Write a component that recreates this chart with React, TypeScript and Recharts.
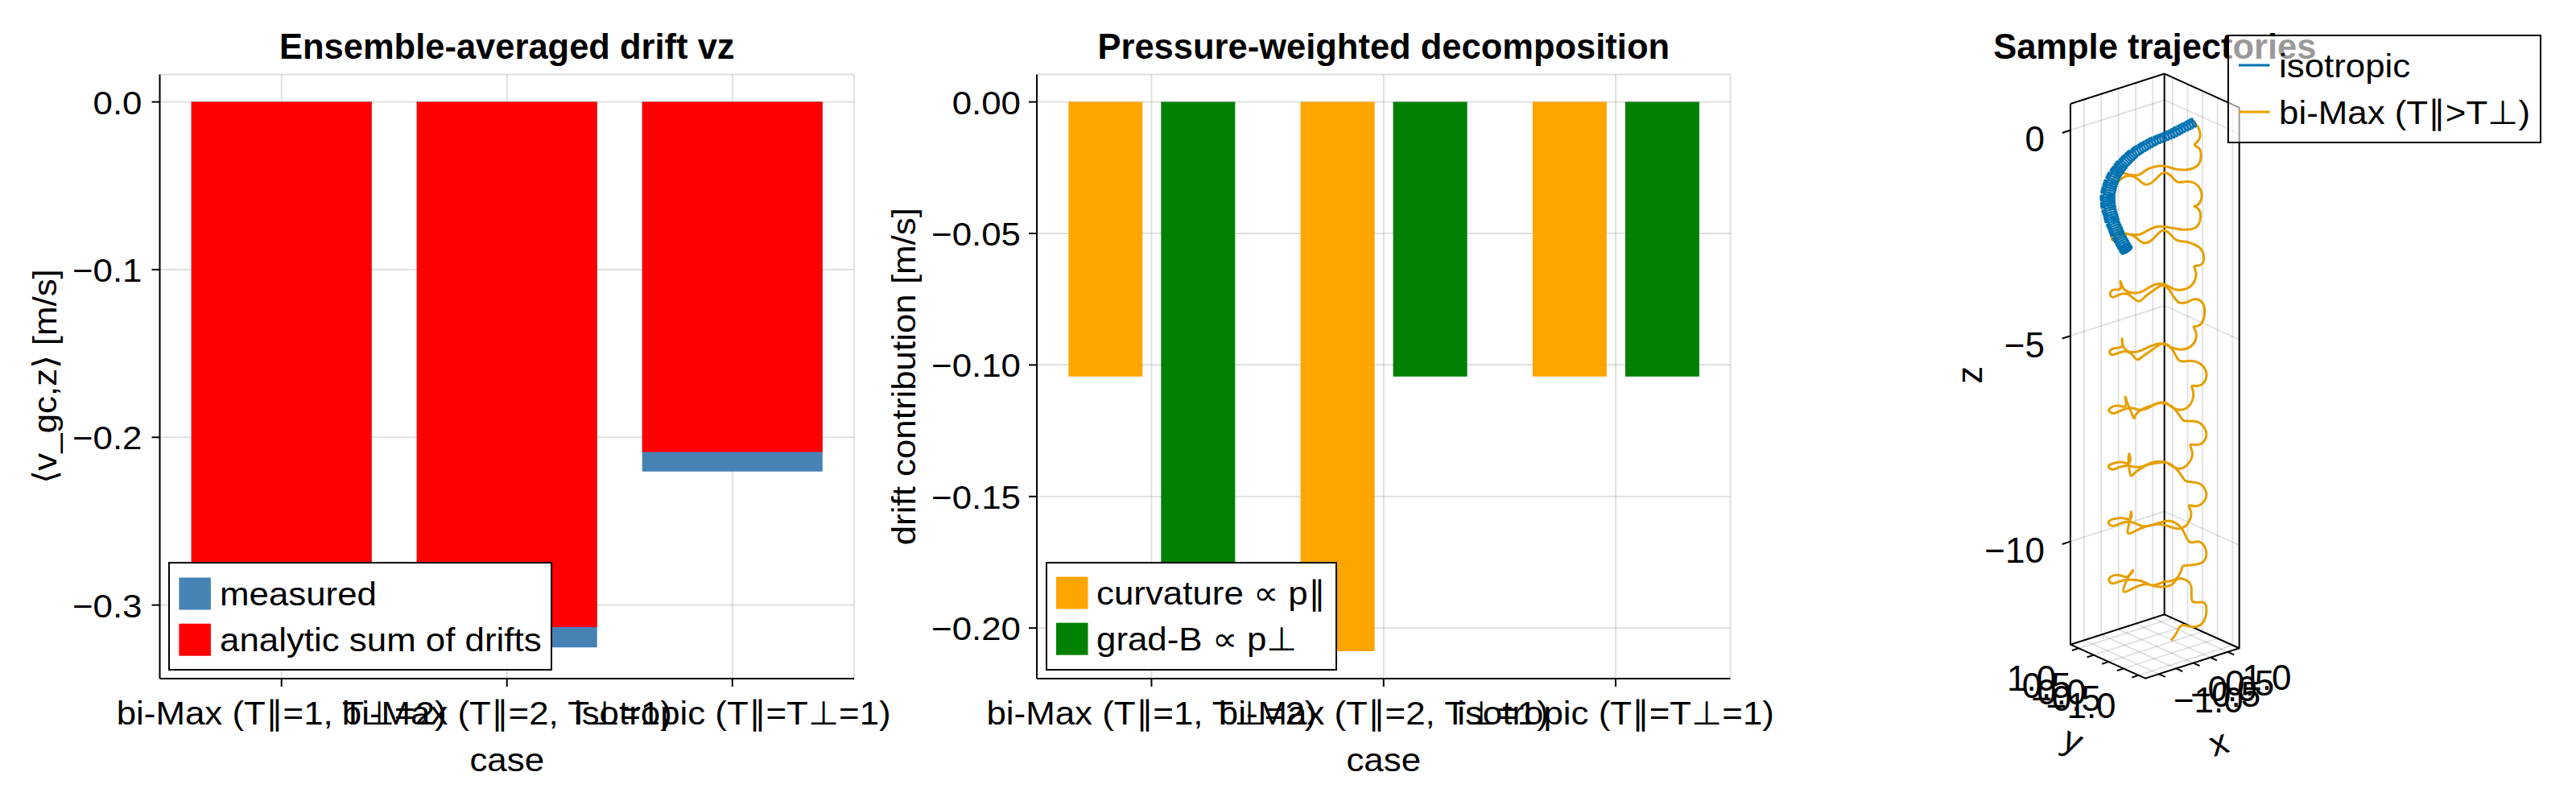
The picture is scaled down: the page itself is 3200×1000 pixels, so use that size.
import React from "react";
import { BarChart, Bar, XAxis, YAxis, CartesianGrid, ComposedChart, Line, Scatter } from "recharts";

const FONT = '"Liberation Sans", Arial, Helvetica, sans-serif';
const FS = 41; // regular text
const SX = 1.07; // reference glyphs run a bit wide
const FS_TITLE = 43.5;
const FS_3D = 44;
const INK = "#000";
const GRID = "rgba(0,0,0,0.12)";

// ---------- drift panels ----------
const CASES = ["bi-Max (T\u2225=1, T\u22A5=2)", "bi-Max (T\u2225=2, T\u22A5=1)", "isotropic (T\u2225=T\u22A5=1)"];
const MEASURED = [-0.3275, -0.3253, -0.2204];
const ANALYTIC = [-0.3132, -0.3132, -0.2088];
const CURVATURE = [-0.1044, -0.2088, -0.1044];
const GRAD_B = [-0.2088, -0.1044, -0.1044];
const DRIFT_TICKS = [0, -0.1, -0.2, -0.3];
const DECOMP_TICKS = [0, -0.05, -0.1, -0.15, -0.2];

// ---------- trajectory panel ----------
const Z_TICKS = [0, -5, -10];
const X_TICKS = [-1, -0.5, 0, 0.5, 1];
const Y_TICKS = [1, 0.5, 0, -0.5, -1];
const X_LIM = [-1.396, 1.336];
const Y_LIM = [-1.225, 1.275];
const Z_LIM = [-12.505, 0.639];
// projected floor corners (u right, v up; same unit as z)
const FLOOR_LB = { u: -2.284, v: -12.485 };
const FLOOR_BB = { u: 0, v: -11.753 };
const FLOOR_FB = { u: -0.464, v: -13.307 };

// isotropic particle: guiding-centre path of the tight helix (projected)
const ISO_U = [0.74, 0.55, 0.35, 0.16, -0.04, -0.24, -0.43, -0.6, -0.76, -0.89, -1.02, -1.12, -1.21, -1.29, -1.34, -1.38, -1.38, -1.36, -1.31, -1.27, -1.2, -1.14, -1.05, -0.97, -0.92];
const ISO_V = [0.22, 0.12, 0.02, -0.08, -0.16, -0.24, -0.34, -0.44, -0.55, -0.67, -0.8, -0.93, -1.06, -1.22, -1.38, -1.55, -1.71, -1.87, -2.04, -2.2, -2.36, -2.52, -2.67, -2.82, -2.9];

// bi-Maxwellian particle, projected trajectory
const BIMAX_U = [
  0.67, 0.81, 0.87, 0.82, 0.73, 0.84, 0.89, 0.84, 0.71, 0.55,
  0.29, 0.03, -0.2, -0.43, -0.63, -0.86, -1.05, -1.16, -1.15, -1.25,
  -1.27, -1.18, -1.08, -0.89, -0.66, -0.46, -0.24, -0.04, 0.16, 0.32,
  0.55, 0.78, 0.89, 0.9, 0.82, 0.73, 0.83, 0.88, 0.83, 0.71,
  0.48, 0.25, 0.03, -0.2, -0.43, -0.63, -0.86, -1.03, -1.13, -1.12,
  -1.25, -1.28, -1.2, -1.08, -0.89, -0.69, -0.5, -0.27, -0.07, 0.12,
  0.29, 0.52, 0.68, 0.87, 0.96, 0.89, 0.73, 0.76, 0.75, 0.63,
  0.43, 0.22, 0.03, -0.17, -0.33, -0.5, -0.69, -0.89, -1.01, -1.07,
  -1.07, -1.23, -1.32, -1.25, -1.1, -0.92, -0.76, -0.61, -0.46, -0.27,
  -0.07, 0.09, 0.22, 0.36, 0.55, 0.73, 0.91, 0.98, 0.93, 0.81,
  0.71, 0.76, 0.76, 0.65, 0.45, 0.22, 0.04, -0.14, -0.33, -0.51,
  -0.69, -0.89, -1.01, -1.03, -1.03, -1.2, -1.33, -1.27, -1.1, -0.92,
  -0.76, -0.66, -0.5, -0.27, -0.05, 0.12, 0.25, 0.38, 0.61, 0.84,
  0.99, 1.02, 0.93, 0.78, 0.67, 0.7, 0.68, 0.56, 0.38, 0.19,
  0.04, -0.14, -0.33, -0.53, -0.69, -0.74, -0.82, -0.9, -0.95, -0.94,
  -1.12, -1.31, -1.34, -1.21, -1.02, -0.79, -0.56, -0.33, -0.11, 0.09,
  0.25, 0.42, 0.52, 0.76, 0.94, 1.02, 0.94, 0.76, 0.63, 0.67,
  0.65, 0.52, 0.35, 0.16, 0.01, -0.17, -0.38, -0.56, -0.72, -0.81,
  -0.86, -0.86, -0.84, -1.05, -1.27, -1.36, -1.27, -1.08, -0.86, -0.6,
  -0.33, -0.07, 0.16, 0.32, 0.45, 0.55, 0.81, 0.97, 1.02, 0.91,
  0.74, 0.6, 0.65, 0.61, 0.52, 0.35, 0.16, -0.04, -0.24, -0.43,
  -0.6, -0.72, -0.89, -0.84, -0.81, -0.82, -1.03, -1.26, -1.36, -1.27,
  -1.07, -0.82, -0.56, -0.33, -0.11, 0.1, 0.29, 0.46, 0.61, 0.81,
  0.97, 1.02, 0.93, 0.68, 0.47, 0.42, 0.35, 0.25, 0.09, -0.04,
  -0.24, -0.43, -0.63, -0.8, -0.99, -0.95, -0.86, -0.76, -0.89, -1.11,
  -1.31, -1.34, -1.23, -1.03, -0.8, -0.56, -0.33, -0.11, 0.16, 0.29,
  0.45, 0.65, 0.68, 0.94, 1.02, 0.91, 0.65, 0.42, 0.29, 0.16,
];
const BIMAX_V = [
  0.22, 0.11, -0.08, -0.24, -0.34, -0.42, -0.6, -0.8, -0.9, -0.94,
  -0.93, -0.86, -0.86, -0.94, -1.07, -1.06, -0.99, -0.87, -1.04, -1.16,
  -1.25, -1.29, -1.19, -1.09, -1.16, -1.3, -1.2, -1.02, -1.09, -1.24,
  -1.23, -1.3, -1.46, -1.64, -1.79, -1.83, -1.9, -2.09, -2.27, -2.37,
  -2.4, -2.37, -2.33, -2.33, -2.43, -2.52, -2.51, -2.43, -2.26, -2.43,
  -2.52, -2.62, -2.67, -2.56, -2.51, -2.59, -2.72, -2.62, -2.43, -2.49,
  -2.65, -2.69, -2.74, -2.85, -3.07, -3.25, -3.29, -3.41, -3.6, -3.78,
  -3.86, -3.84, -3.74, -3.72, -3.78, -3.88, -3.94, -3.91, -3.8, -3.65,
  -3.83, -3.86, -3.96, -4.04, -3.98, -3.96, -4.06, -4.14, -4.02, -3.88,
  -3.76, -3.83, -4.02, -4.17, -4.16, -4.09, -4.16, -4.38, -4.63, -4.74,
  -4.76, -4.87, -5.07, -5.23, -5.31, -5.28, -5.2, -5.17, -5.23, -5.31,
  -5.37, -5.35, -5.2, -5.05, -5.23, -5.28, -5.36, -5.44, -5.39, -5.36,
  -5.46, -5.56, -5.46, -5.3, -5.17, -5.23, -5.41, -5.59, -5.59, -5.64,
  -5.79, -5.98, -6.15, -6.2, -6.2, -6.34, -6.55, -6.72, -6.78, -6.72,
  -6.61, -6.61, -6.68, -6.76, -6.89, -6.98, -6.8, -6.61, -6.47, -6.68,
  -6.68, -6.73, -6.82, -6.86, -6.78, -6.74, -6.78, -6.7, -6.61, -6.65,
  -6.76, -6.99, -7.05, -7.06, -7.17, -7.37, -7.57, -7.63, -7.63, -7.78,
  -7.98, -8.15, -8.21, -8.13, -8.05, -8.07, -8.11, -8.2, -8.31, -8.38,
  -8.17, -7.85, -8.05, -8.05, -8.09, -8.15, -8.23, -8.17, -8.14, -8.17,
  -8.07, -8.04, -8.11, -8.25, -8.43, -8.52, -8.56, -8.68, -8.87, -9.06,
  -9.12, -9.11, -9.28, -9.47, -9.6, -9.67, -9.63, -9.57, -9.57, -9.61,
  -9.67, -9.73, -9.77, -9.47, -9.26, -9.42, -9.41, -9.44, -9.51, -9.6,
  -9.54, -9.5, -9.6, -9.59, -9.52, -9.48, -9.54, -9.73, -9.99, -9.98,
  -10.09, -10.29, -10.48, -10.55, -10.57, -10.65, -10.81, -10.91, -10.95, -10.97,
  -11.04, -11.02, -11.06, -11.14, -11.2, -11.0, -10.81, -10.68, -10.83, -10.8,
  -10.84, -10.94, -11.0, -10.93, -10.91, -10.94, -11.04, -11.08, -11.04, -10.91,
  -10.89, -11.07, -11.43, -11.46, -11.69, -11.98, -12.05, -12.02, -12.21, -12.39,
];

const ISO_COLOR = "#0072B2";
const BIMAX_COLOR = "#E69F00";

// ---------- helpers ----------
const fmt = (v: number, d: number) => (v < 0 ? "\u2212" : "") + Math.abs(v).toFixed(d);
const padded = (vals: number[]): [number, number] => {
  const lo = Math.min(0, ...vals);
  return [lo * 1.05, -lo * 0.05];
};

const driftRows = CASES.map((c, i) => ({ case: c, measured: MEASURED[i], analytic: ANALYTIC[i] }));
const decompRows = CASES.map((c, i) => ({ case: c, curvature: CURVATURE[i], gradB: GRAD_B[i] }));
const DRIFT_DOMAIN = padded([...MEASURED, ...ANALYTIC]);
const DECOMP_DOMAIN = padded([...CURVATURE, ...GRAD_B]);

function XTick(props: any) {
  const { x, y, payload } = props;
  return (
    <text transform={`translate(${x},${y + 47}) scale(${SX},1)`} textAnchor="middle" fontFamily={FONT} fontSize={FS} fill={INK}>
      {payload.value}
    </text>
  );
}

const yTick = (digits: number) => (props: any) => {
  const { x, y, payload } = props;
  return (
    <text transform={`translate(${x},${y + 15}) scale(${SX},1)`} textAnchor="end" fontFamily={FONT} fontSize={FS} fill={INK}>
      {fmt(payload.value, digits)}
    </text>
  );
};

const axisStroke = { stroke: INK, strokeWidth: 2 };

// ---------- 3D projection ----------
type UV = { u: number; v: number };
const [XL, XH] = X_LIM;
const [YL, YH] = Y_LIM;
const [ZL, ZH] = Z_LIM;
function proj(x: number, y: number, z: number): UV {
  const a = (x - XL) / (XH - XL);
  const b = (YH - y) / (YH - YL);
  return {
    u: FLOOR_LB.u + a * (FLOOR_BB.u - FLOOR_LB.u) + b * (FLOOR_FB.u - FLOOR_LB.u),
    v: FLOOR_LB.v + a * (FLOOR_BB.v - FLOOR_LB.v) + b * (FLOOR_FB.v - FLOOR_LB.v) + (z - ZL),
  };
}
const unit = (a: UV, b: UV): UV => {
  const du = b.u - a.u;
  const dv = b.v - a.v;
  const l = Math.hypot(du, dv);
  return { u: du / l, v: dv / l };
};
const shift = (p: UV, d: UV, k: number): UV => ({ u: p.u + d.u * k, v: p.v + d.v * k });

const P_LB = proj(XL, YH, ZL);
const P_BB = proj(XH, YH, ZL);
const P_FB = proj(XL, YL, ZL);
const OUT_LEFT = unit(P_BB, P_LB);
const OUT_FRONT = unit(P_LB, P_FB);

const frameSegs: UV[][] = [
  [proj(XL, YH, ZH), proj(XL, YH, ZL), proj(XL, YL, ZL), proj(XH, YL, ZL), proj(XH, YL, ZH), proj(XH, YH, ZH), proj(XL, YH, ZH)],
  [proj(XL, YH, ZL), proj(XH, YH, ZL), proj(XH, YL, ZL)],
  [proj(XH, YH, ZL), proj(XH, YH, ZH)],
];
const gridSegs: UV[][] = [
  ...Z_TICKS.map((z) => [proj(XL, YH, z), proj(XH, YH, z), proj(XH, YL, z)]),
  ...X_TICKS.map((x) => [proj(x, YH, ZL), proj(x, YH, ZH)]),
  ...Y_TICKS.map((y) => [proj(XH, y, ZL), proj(XH, y, ZH)]),
  ...X_TICKS.map((x) => [proj(x, YH, ZL), proj(x, YL, ZL)]),
  ...Y_TICKS.map((y) => [proj(XL, y, ZL), proj(XH, y, ZL)]),
];
const tickSegs: UV[][] = [
  ...Z_TICKS.map((z) => [proj(XL, YH, z), shift(proj(XL, YH, z), OUT_LEFT, 0.21)]),
  ...X_TICKS.map((x) => [proj(x, YL, ZL), shift(proj(x, YL, ZL), OUT_FRONT, 0.17)]),
  ...Y_TICKS.map((y) => [proj(XL, y, ZL), shift(proj(XL, y, ZL), OUT_LEFT, 0.17)]),
];

const zLabels = Z_TICKS.map((z) => ({ ...shift(proj(XL, YH, z), { u: -0.626, v: -0.52 }, 1), label: fmt(z, 0) }));
const xLabels = X_TICKS.map((x) => ({ ...shift(proj(x, YL, ZL), { u: 0.352, v: -0.93 }, 1), label: fmt(x, 1) }));
const yLabels = Y_TICKS.map((y) => ({ ...shift(proj(XL, y, ZL), { u: -0.548, v: -1.037 }, 1), label: fmt(y, 1) }));
const axisLabels = [
  { ...shift(proj(XL, YH, (ZL + ZH) / 2), { u: -2.152, v: -0.017 }, 1), label: "z", rot: -90 },
  { ...shift(proj(XL, (YL + YH) / 2, ZL), { u: -0.965, v: -2.182 }, 1), label: "y", rot: 24 },
  { ...shift(proj((XL + XH) / 2, YL, ZL), { u: 0.727, v: -2.208 }, 1), label: "x", rot: -18 },
];

const isoData = ISO_U.map((u, i) => ({ u, v: ISO_V[i] }));
const bimaxData = BIMAX_U.map((u, i) => ({ u, v: BIMAX_V[i] }));

const W3 = 480;
const H3 = 900;
const U_DOMAIN: [number, number] = [-5.258, 4.135];
const V_DOMAIN: [number, number] = [-15.603, 2.01];
const PX = W3 / (U_DOMAIN[1] - U_DOMAIN[0]);

// draws the gyration turns between one guiding-centre point and the next
function coilDot(props: any) {
  const { cx, cy, index } = props;
  const last = index >= ISO_U.length - 1;
  const j = last ? index - 1 : index;
  const dx = (ISO_U[j + 1] - ISO_U[j]) * PX;
  const dy = -(ISO_V[j + 1] - ISO_V[j]) * PX;
  const len = Math.hypot(dx, dy);
  const tx = dx / len;
  const ty = dy / len;
  const nx = -ty;
  const ny = tx;
  const rMaj = 4.8 + 4 * ty * ty;
  const rMin = 2.4;
  const turns = last ? 1 : 3;
  const adv = last ? 0 : 1;
  const n = turns * 18;
  let d = "";
  for (let k = 0; k <= n; k++) {
    const f = k / n;
    const t = f * turns * 2 * Math.PI;
    const px = dx * f * adv + nx * rMaj * Math.cos(t) + tx * rMin * Math.sin(t);
    const py = dy * f * adv + ny * rMaj * Math.cos(t) + ty * rMin * Math.sin(t);
    d += (k ? "L" : "M") + px.toFixed(2) + "," + py.toFixed(2);
  }
  return (
    <path key={`coil-${index}`} d={d} transform={`translate(${cx},${cy})`} fill="none" stroke={ISO_COLOR} strokeWidth={2.3} strokeLinejoin="round" />
  );
}

const textShape = (anchor: string) => (p: any) => (
  <text
    x={p.cx}
    y={p.cy}
    textAnchor={anchor}
    fontFamily={FONT}
    fontSize={FS_3D}
    fill={INK}
    transform={p.payload.rot ? `rotate(${p.payload.rot} ${p.cx} ${p.cy})` : undefined}
  >
    {p.payload.label}
  </text>
);

function Txt({ x, y, children, anchor = "middle", rotate = 0, bold = false, size = FS, sx = SX, fill = INK }: any) {
  return (
    <text
      transform={`translate(${x},${y}) rotate(${rotate}) scale(${sx},1)`}
      textAnchor={anchor}
      fontFamily={FONT}
      fontSize={size}
      fontWeight={bold ? "bold" : "normal"}
      fill={fill}
    >
      {children}
    </text>
  );
}

export default function App() {
  return (
    <div style={{ position: "absolute", left: 0, top: 0, width: 3200, height: 1000, background: "#fff", overflow: "hidden" }}>
      {/* panel 1 */}
      <div style={{ position: "absolute", left: 0, top: 0 }}>
        <BarChart width={1150} height={1000} data={driftRows} margin={{ top: 92.5, right: 89, bottom: 97, left: 78.5 }}>
          <CartesianGrid stroke={GRID} strokeWidth={2} />
          <XAxis xAxisId={0} dataKey="case" height={60} padding={{ left: 11.2, right: 11.2 }} interval={0}
            tickSize={10} tickMargin={0} tickLine={axisStroke} axisLine={axisStroke} tick={XTick} />
          <XAxis xAxisId={1} dataKey="case" padding={{ left: 11.2, right: 11.2 }} hide />
          <XAxis xAxisId="top" orientation="top" dataKey="case" height={0} tick={false} tickLine={false} axisLine={axisStroke} />
          <YAxis type="number" width={120} domain={DRIFT_DOMAIN} allowDataOverflow ticks={DRIFT_TICKS} interval={0}
            tickSize={10} tickMargin={12} tickLine={axisStroke} axisLine={axisStroke} tick={yTick(1)} />
          <YAxis yAxisId="right" orientation="right" width={0} tick={false} tickLine={false} axisLine={axisStroke} />
          <Bar xAxisId={0} dataKey="measured" fill="#4682B4" barSize={224} isAnimationActive={false} />
          <Bar xAxisId={1} dataKey="analytic" fill="#FF0000" barSize={224} isAnimationActive={false} />
        </BarChart>
      </div>

      {/* panel 2 */}
      <div style={{ position: "absolute", left: 1080, top: 0 }}>
        <BarChart width={1160} height={1000} data={decompRows} barGap={23} margin={{ top: 92.5, right: 90.5, bottom: 97, left: 58 }}>
          <CartesianGrid stroke={GRID} strokeWidth={2} />
          <XAxis dataKey="case" height={60} padding={{ left: -1.7, right: -1.7 }} interval={0}
            tickSize={10} tickMargin={0} tickLine={axisStroke} axisLine={axisStroke} tick={XTick} />
          <XAxis xAxisId="top" orientation="top" dataKey="case" height={0} tick={false} tickLine={false} axisLine={axisStroke} />
          <YAxis type="number" width={150} domain={DECOMP_DOMAIN} allowDataOverflow ticks={DECOMP_TICKS} interval={0}
            tickSize={10} tickMargin={10} tickLine={axisStroke} axisLine={axisStroke} tick={yTick(2)} />
          <YAxis yAxisId="right" orientation="right" width={0} tick={false} tickLine={false} axisLine={axisStroke} />
          <Bar dataKey="curvature" fill="#FFA500" barSize={92} isAnimationActive={false} />
          <Bar dataKey="gradB" fill="#008000" barSize={92} isAnimationActive={false} />
        </BarChart>
      </div>

      {/* panel 3 */}
      <div style={{ position: "absolute", left: 2420, top: 60 }}>
        <ComposedChart width={W3} height={H3} margin={{ top: 0, right: 0, bottom: 0, left: 0 }}>
          <XAxis type="number" dataKey="u" domain={U_DOMAIN} allowDataOverflow hide />
          <YAxis type="number" dataKey="v" domain={V_DOMAIN} allowDataOverflow hide />
          {gridSegs.map((s, i) => (
            <Line key={`g${i}`} data={s} dataKey="v" type="linear" stroke={GRID} strokeWidth={1.8} dot={false} isAnimationActive={false} />
          ))}
          {frameSegs.map((s, i) => (
            <Line key={`f${i}`} data={s} dataKey="v" type="linear" stroke={INK} strokeWidth={2} dot={false} isAnimationActive={false} />
          ))}
          {tickSegs.map((s, i) => (
            <Line key={`t${i}`} data={s} dataKey="v" type="linear" stroke={INK} strokeWidth={2} dot={false} isAnimationActive={false} />
          ))}
          <Line data={isoData} dataKey="v" stroke="none" dot={coilDot} activeDot={false} isAnimationActive={false} />
          <Line data={bimaxData} dataKey="v" type="natural" stroke={BIMAX_COLOR} strokeWidth={3} dot={false} isAnimationActive={false} />
          <Scatter data={zLabels} dataKey="v" shape={textShape("end")} isAnimationActive={false} />
          <Scatter data={xLabels} dataKey="v" shape={textShape("start")} isAnimationActive={false} />
          <Scatter data={yLabels} dataKey="v" shape={textShape("end")} isAnimationActive={false} />
          <Scatter data={axisLabels} dataKey="v" shape={textShape("middle")} isAnimationActive={false} />
        </ComposedChart>
      </div>

      {/* titles, axis labels, legends */}
      <svg width={3200} height={1000} style={{ position: "absolute", left: 0, top: 0, pointerEvents: "none" }}>
        <Txt x={629.75} y={73} bold size={FS_TITLE} sx={1}>Ensemble-averaged drift vz</Txt>
        <Txt x={1718.75} y={73} bold size={FS_TITLE} sx={1}>Pressure-weighted decomposition</Txt>
        <Txt x={2676.8} y={73} bold size={FS_TITLE} sx={1}>Sample trajectories</Txt>

        <Txt x={629.75} y={958}>case</Txt>
        <Txt x={1718.75} y={958}>case</Txt>
        <Txt x={70} y={467.7} rotate={-90}>{"\u27E8v_gc,z\u27E9 [m/s]"}</Txt>
        <Txt x={1137} y={467.7} rotate={-90}>drift contribution [m/s]</Txt>

        <rect x={210} y={699} width={475} height={133} fill="#fff" stroke={INK} strokeWidth={2} />
        <rect x={222.4} y={717.5} width={39.5} height={40} fill="#4682B4" />
        <rect x={222.4} y={774.7} width={39.5} height={40} fill="#FF0000" />
        <Txt x={273} y={752.3} anchor="start">measured</Txt>
        <Txt x={273} y={809.4} anchor="start">analytic sum of drifts</Txt>

        <rect x={1300} y={699} width={360} height={133} fill="#fff" stroke={INK} strokeWidth={2} />
        <rect x={1312} y={716.5} width={39.5} height={40} fill="#FFA500" />
        <rect x={1312} y={773.7} width={39.5} height={40} fill="#008000" />
        <Txt x={1362} y={751} anchor="start">{"curvature \u221D p\u2225"}</Txt>
        <Txt x={1362} y={808.2} anchor="start">{"grad-B \u221D p\u22A5"}</Txt>

        <rect x={2768} y={44} width={388} height={133} fill="rgba(255,255,255,0.6)" stroke={INK} strokeWidth={2} />
        <line x1={2781} x2={2819.5} y1={81} y2={81} stroke={ISO_COLOR} strokeWidth={3} />
        <line x1={2781} x2={2819.5} y1={139} y2={139} stroke={BIMAX_COLOR} strokeWidth={3} />
        <Txt x={2831} y={95.7} anchor="start">isotropic</Txt>
        <Txt x={2831} y={153.7} anchor="start">{"bi-Max (T\u2225>T\u22A5)"}</Txt>
      </svg>
    </div>
  );
}
